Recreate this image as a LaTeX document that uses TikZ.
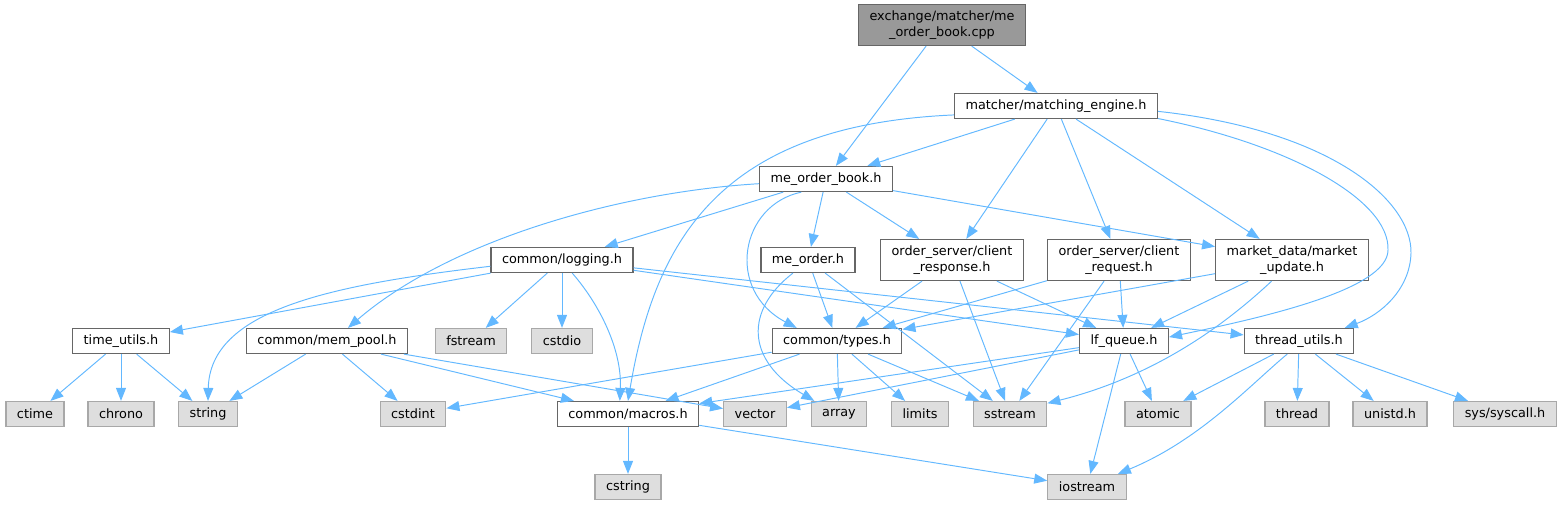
\documentclass[tikz,border=0pt]{standalone}
\usepackage{fontspec}
\setmainfont{DejaVu Sans}
\usepackage{tikz}
\usetikzlibrary{arrows.meta}

\definecolor{edgeblue}{HTML}{63B8FF}
\definecolor{boxline}{HTML}{666666}
\definecolor{sysline}{HTML}{A8A8A8}
\definecolor{sysfill}{HTML}{DEDEDE}
\definecolor{rootfill}{HTML}{999999}

\begin{document}
\begin{tikzpicture}[x=0.02cm, y=-0.02cm,
		font=\fontsize{7.3}{9.1}\selectfont,
		hfile/.style={draw=boxline, fill=white, line width=0.7pt, inner xsep=0.22cm, inner ysep=0pt, minimum height=0.5cm, align=center},
		hfiletwo/.style={hfile, minimum height=0.82cm},
		sysfile/.style={hfile, draw=sysline, fill=sysfill},
		rootfile/.style={hfiletwo, fill=rootfill},
		dep/.style={draw=edgeblue, line width=0.55pt, -{Triangle[length=0.26cm, width=0.2cm]}}]
			
			\useasboundingbox (0,0) rectangle (1565,505);
			
			% Top: the source file and the engine header
			\node[rootfile] (cpp) at (942,25) {exchange/matcher/me\\\_order\_book.cpp};
			\node[hfile] (eng) at (1056,106) {matcher/matching\_engine.h};
			\node[hfile] (book) at (826,179) {me\_order\_book.h};
			
			% Second row
			\node[hfile] (log) at (562,260) {common/logging.h};
			\node[hfile] (ord) at (808,260) {me\_order.h};
			\node[hfiletwo] (resp) at (952,260) {order\_server/client\\\_response.h};
			\node[hfiletwo] (req) at (1119,260) {order\_server/client\\\_request.h};
			\node[hfiletwo] (mkt) at (1292,260) {market\_data/market\\\_update.h};
			
			% Third row
			\node[hfile] (time) at (121,341) {time\_utils.h};
			\node[hfile] (pool) at (327,341) {common/mem\_pool.h};
			\node[sysfile] (fstr) at (471,341) {fstream};
			\node[sysfile] (cstdio) at (562,341) {cstdio};
			\node[hfile] (types) at (837,341) {common/types.h};
			\node[hfile] (lfq) at (1124,341) {lf\_queue.h};
			\node[hfile] (thr) at (1299,341) {thread\_utils.h};
			
			% Fourth row
			\node[sysfile] (ctime) at (35,414) {ctime};
			\node[sysfile] (chrono) at (121,414) {chrono};
			\node[sysfile] (str) at (208,414) {string};
			\node[sysfile] (cstdint) at (413,414) {cstdint};
			\node[hfile] (macros) at (628,414) {common/macros.h};
			\node[sysfile] (vec) at (755,414) {vector};
			\node[sysfile] (arr) at (839,414) {array};
			\node[sysfile] (lim) at (920,414) {limits};
			\node[sysfile] (sstr) at (1010,414) {sstream};
			\node[sysfile] (atom) at (1158,414) {atomic};
			\node[sysfile] (thread) at (1297,414) {thread};
			\node[sysfile] (unistd) at (1390,414) {unistd.h};
			\node[sysfile] (sysc) at (1505,414) {sys/syscall.h};
			
			% Bottom row
			\node[sysfile] (cstr) at (628,487) {cstring};
			\node[sysfile] (ios) at (1087,487) {iostream};
			
			% Straight includes
			\foreach \a/\b in {cpp/book, cpp/eng, eng/book, eng/resp, eng/req, eng/mkt,
				book/log, book/ord, book/resp, book/mkt,
				log/time, log/fstr, log/cstdio, log/lfq, log/thr,
				ord/types, ord/sstr, resp/types, resp/lfq, resp/sstr,
				req/types, req/lfq, req/sstr, mkt/types, mkt/lfq,
				time/ctime, time/chrono, time/str,
				pool/str, pool/cstdint, pool/macros, pool/vec,
				types/cstdint, types/macros, types/arr, types/lim, types/sstr,
				lfq/macros, lfq/vec, lfq/atom, lfq/ios,
				thr/atom, thr/thread, thr/unistd, thr/sysc,
				macros/cstr, macros/ios}
			\draw[dep] (\a) -- (\b);
			
			% Curved includes
			\draw[dep] (eng.185) .. controls (720,125) and (655,240) .. (macros.north);
			\draw[dep] (eng.-7) .. controls (1290,145) and (1390,200) .. (1388,250)
				.. controls (1388,290) and (1260,318) .. (lfq.5);
			\draw[dep] (eng.-3) .. controls (1330,130) and (1412,200) .. (1411,253)
				.. controls (1410,290) and (1380,315) .. (thr.16);
			\draw[dep] (book.184) .. controls (620,192) and (450,240) .. (pool.32);
			\draw[dep] (book.208) .. controls (740,205) and (725,290) .. (types.162);
			\draw[dep] (log.185) .. controls (330,285) and (210,310) .. (str.north);
			\draw[dep] (log.-52) .. controls (600,305) and (622,350) .. (macros.122);
			\draw[dep] (ord.221) .. controls (745,310) and (745,360) .. (arr.152);
			\draw[dep] (mkt.226) .. controls (1230,320) and (1160,375) .. (sstr.16);
			\draw[dep] (thr.228) .. controls (1250,385) and (1200,440) .. (ios.23);
			
		\end{tikzpicture}
\end{document}
